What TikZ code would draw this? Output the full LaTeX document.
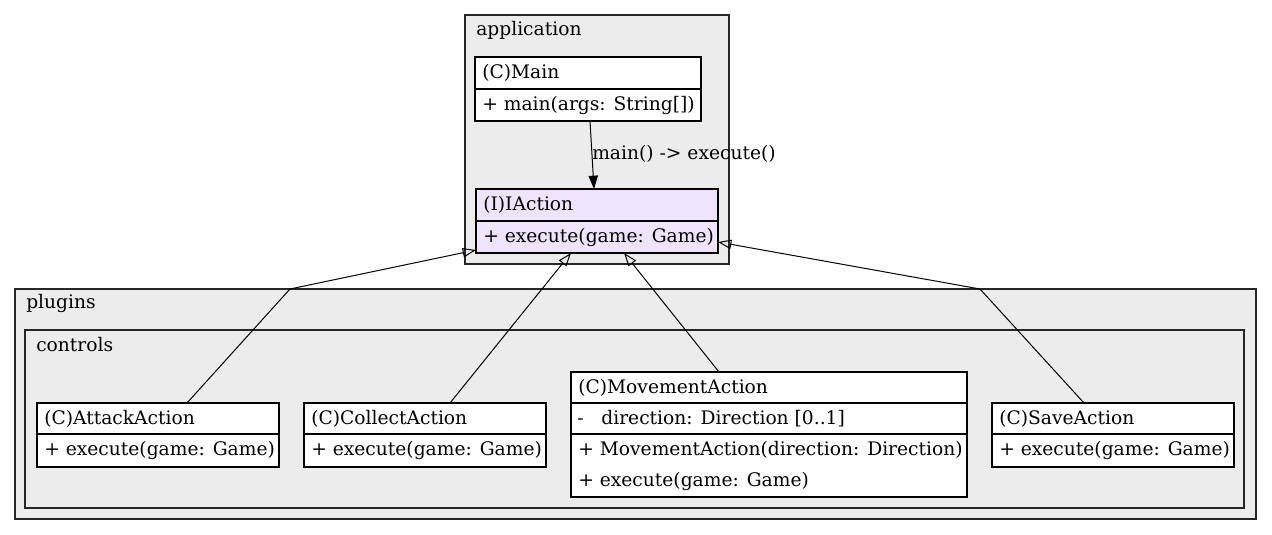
\documentclass[tikz,border=0pt]{standalone}
\usepackage{fontspec}
\setmainfont{DejaVu Serif}
\usetikzlibrary{arrows.meta,fit}
\definecolor{clu}{RGB}{236,236,236}
\definecolor{lav}{RGB}{240,227,254}
\begin{document}
\begin{tikzpicture}[x=0.75pt,y=-0.75pt,
  cluster/.style={draw=black!85, fill=clu, line width=1pt, inner sep=0pt},
  cls/.style={draw=black, fill=white, line width=0.8pt, inner sep=0pt},
  txt/.style={anchor=west, inner sep=0pt, font=\fontsize{14}{16}\selectfont},
  div/.style={draw=black, line width=0.8pt},
  inh/.style={draw=black, line width=0.75pt, -{Triangle[open,length=10pt,width=7pt]}},
  call/.style={draw=black, line width=0.75pt, -{Triangle[length=10pt,width=7pt]}}]
\useasboundingbox (0,0) rectangle (1272,535);
\fill[white] (0,0) rectangle (1272,535);
% clusters
\node[cluster, fit={(465,15) (729,264)}] (app) {};
\node[txt] (appL) at (476,30) {application};
\node[cluster, fit={(15,289) (1256,519)}] (plugins) {};
\node[txt] (plugL) at (26,303) {plugins};
\node[cluster, fit={(25,330) (1244,508)}] (controls) {};
\node[txt] (ctrlL) at (36,345) {controls};
% edges
\draw[call] (590,121) -- (594,189);
\node[txt] (lbl) at (592,154) {main() -> execute()};
\draw[inh] (187,403) -- (290,289) -- (476,250);
\draw[inh] (450,403) -- (571,253);
\draw[inh] (719,372) -- (624,253);
\draw[inh] (1084,403) -- (980,289) -- (718,242);
% Main
\node[cls, fit={(475,57) (701,121)}] (main) {};
\draw[div] (475,89) -- (701,89);
\node[txt] (mainT) at (482,73) {(C)Main};
\node[txt] (mainM) at (482,105) {+ main(args: String[])};
% IAction
\node[cls, fill=lav, fit={(476,189) (718,253)}] (iaction) {};
\draw[div] (476,221) -- (718,221);
\node[txt] (iaT) at (483,205) {(I)IAction};
\node[txt] (iaM) at (483,237) {+ execute(game: Game)};
% AttackAction
\node[cls, fit={(37,403) (279,467)}] (attack) {};
\draw[div] (37,434) -- (279,434);
\node[txt] (atT) at (44,418.5) {(C)AttackAction};
\node[txt] (atM) at (44,450.5) {+ execute(game: Game)};
% CollectAction
\node[cls, fit={(304,403) (546,467)}] (collect) {};
\draw[div] (304,434) -- (546,434);
\node[txt] (coT) at (311,418.5) {(C)CollectAction};
\node[txt] (coM) at (311,450.5) {+ execute(game: Game)};
% MovementAction
\node[cls, fit={(571,372) (967,497)}] (move) {};
\draw[div] (571,403) -- (967,403);
\draw[div] (571,434) -- (967,434);
\node[txt] (mvT) at (578,387.5) {(C)MovementAction};
\node[txt] (mvA) at (577,418.5) {-\ \ \ direction: Direction [0..1]};
\node[txt] (mvM1) at (578,449.5) {+ MovementAction(direction: Direction)};
\node[txt] (mvM2) at (578,481) {+ execute(game: Game)};
% SaveAction
\node[cls, fit={(992,403) (1234,467)}] (save) {};
\draw[div] (992,434) -- (1234,434);
\node[txt] (svT) at (999,418.5) {(C)SaveAction};
\node[txt] (svM) at (999,450.5) {+ execute(game: Game)};
\end{tikzpicture}
\end{document}
